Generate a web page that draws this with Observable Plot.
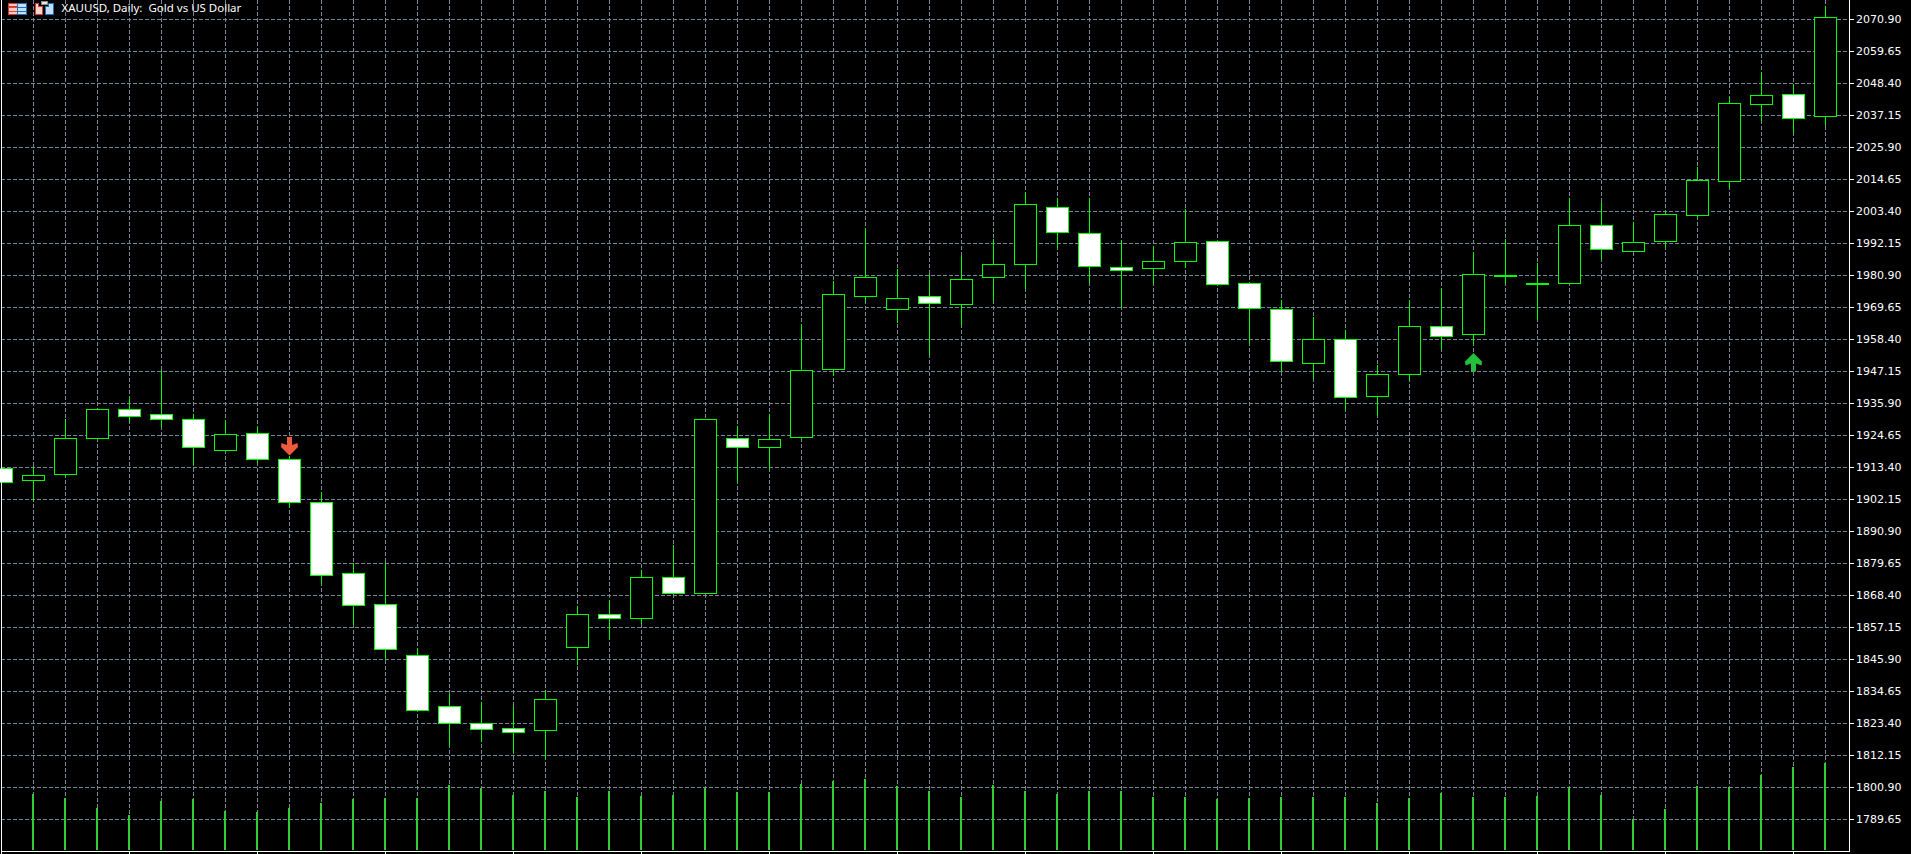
<!DOCTYPE html>
<html>
<head>
<meta charset="utf-8">
<script src="https://cdn.jsdelivr.net/npm/d3@7"></script>
<script src="https://cdn.jsdelivr.net/npm/@observablehq/plot@0.6"></script>
<style>
html,body{margin:0;padding:0;background:#000;overflow:hidden}
svg{display:block;shape-rendering:crispEdges}
</style>
</head>
<body>
<div id="chart"></div>
<script>
const title = "XAUUSD, Daily:  Gold vs US Dollar";
const priceTicks = [2070.90,2059.65,2048.40,2037.15,2025.90,2014.65,2003.40,1992.15,1980.90,1969.65,1958.40,1947.15,1935.90,1924.65,1913.40,1902.15,1890.90,1879.65,1868.40,1857.15,1845.90,1834.65,1823.40,1812.15,1800.90,1789.65];

const opens = [1913.21,1909.00,1911.10,1923.73,1933.87,1932.15,1930.43,1919.52,1925.45,1916.27,1900.96,1876.28,1865.37,1847.20,1829.21,1823.47,1821.56,1820.79,1850.26,1861.55,1860.21,1874.56,1869.20,1923.73,1920.29,1924.11,1947.84,1973.67,1969.07,1973.67,1970.80,1980.36,1984.76,2004.85,1995.67,1983.81,1983.42,1985.91,1992.99,1978.07,1969.07,1950.13,1958.55,1938.46,1946.11,1962.95,1960.27,1980.56,1977.88,1978.26,1998.54,1989.36,1992.99,2001.98,2013.85,2041.01,2044.46,2036.80];
const highs = [1913.21,1913.59,1930.43,1934.06,1938.08,1947.65,1931.96,1930.04,1927.56,1917.42,1904.60,1879.72,1880.11,1849.68,1833.61,1830.93,1829.21,1835.14,1864.42,1866.71,1877.24,1885.85,1930.43,1927.94,1932.15,1963.53,1978.64,1997.39,1983.04,1981.13,1987.44,1993.56,2010.02,2007.91,2008.11,1992.99,1991.27,2004.09,1992.99,1978.26,1971.94,1966.01,1961.61,1949.37,1972.14,1976.35,1988.97,1993.56,1985.15,2007.91,2006.58,1999.50,2003.51,2018.82,2043.50,2052.30,2048.09,2075.45];
const lows = [1908.23,1901.34,1909.95,1923.54,1929.28,1927.36,1913.97,1919.52,1914.74,1899.05,1872.45,1857.72,1845.86,1827.87,1815.25,1816.78,1812.95,1810.65,1843.94,1852.94,1858.10,1868.44,1869.01,1908.23,1912.44,1923.16,1945.35,1971.56,1964.10,1952.62,1962.95,1971.56,1975.96,1990.50,1978.07,1969.65,1977.88,1983.42,1977.68,1956.83,1947.26,1944.20,1933.30,1931.38,1943.63,1954.92,1956.64,1977.88,1965.25,1977.88,1986.68,1989.36,1990.69,2000.64,2011.55,2034.89,2030.68,2033.36];
const closes = [1908.23,1910.72,1923.73,1933.87,1931.38,1930.43,1920.29,1925.07,1916.08,1900.96,1875.32,1864.99,1849.30,1827.87,1823.28,1821.18,1820.41,1831.70,1861.55,1860.40,1874.56,1869.01,1930.43,1920.29,1923.35,1947.65,1974.24,1980.17,1972.90,1971.18,1979.60,1984.76,2005.81,1996.05,1984.19,1982.66,1985.91,1992.61,1977.88,1969.27,1950.52,1958.55,1938.08,1946.11,1962.95,1959.51,1981.32,1980.75,1978.07,1998.54,1990.12,1992.61,2002.37,2014.42,2041.40,2044.27,2036.23,2071.63];
const volumes = [0,104,97,79,66,91,95,72,71,79,88,95,97,97,120,115,102,110,99,110,100,102,115,107,107,123,128,131,118,110,98,121,110,104,110,109,99,99,94,96,99,98,98,88,97,105,98,98,101,116,102,57,76,119,116,138,153,160];

const volumeBase = 1778.58;
const volumeUnit = 0.1913;
const downSignals = [{i: 9, price: 1921.0}];
const upSignals = [{i: 46, price: 1950.3}];

const GREEN = "#00ff00", GRID = "#778899", VOL = "#32cd32";
const indices = d3.range(opens.length);
const bodyHalf = 11 / 32;

const arrow = sign => ({
  draw(ctx, size) {
    const r = Math.sqrt(size / Math.PI) / 10;
    const pts = [[-2.5,-9],[2.5,-9],[2.5,-1],[8,-3],[8.5,1],[0,9.5],[-8.5,1],[-8,-3],[-2.5,-1]];
    pts.forEach(([a, b], k) => k ? ctx.lineTo(a * r, sign * b * r) : ctx.moveTo(a * r, sign * b * r));
    ctx.closePath();
  }
});

const iconSvg = `<svg xmlns='http://www.w3.org/2000/svg' width='60' height='20' shape-rendering='crispEdges'>
<rect x='7.5' y='2.5' width='9' height='11' fill='#f6c9c4' stroke='#d8372e'/>
<rect x='16.5' y='2.5' width='9' height='11' fill='#bfe0f7' stroke='#1f6fb5'/>
<path d='M8 6.5h8M8 10.5h8' stroke='#e0453a' stroke-width='1'/>
<path d='M17 6.5h8M17 10.5h8' stroke='#1f6fb5' stroke-width='1'/>
<path d='M8 2.5h8M8 6h8' stroke='#d8372e'/>
<path d='M34.5 13.5V2.5h3v3h4v8z' fill='#fbd2cb' stroke='#d8372e'/>
<path d='M52.5 13.5V2.5h-5v3h-3v8z' fill='#bfe0f7' stroke='#1f6fb5'/>
<rect x='40.5' y='0.5' width='6' height='3.5' fill='#e8e8e8' stroke='#888'/>
</svg>`;
const iconSrc = "data:image/svg+xml;utf8," + encodeURIComponent(iconSvg);

const chart = Plot.plot({
  width: 1911,
  height: 854,
  marginLeft: 1,
  marginRight: 62,
  marginTop: 0,
  marginBottom: 3,
  style: {background: "#000", color: "#fff", fontFamily: "'DejaVu Sans', sans-serif", overflow: "hidden"},
  x: {type: "linear", domain: [0, opens.length - 1], range: [1, 1825], axis: null, label: null},
  y: {type: "linear", domain: [priceTicks[0], priceTicks[priceTicks.length - 1]], range: [19, 819], axis: null, label: null},
  marks: [
    Plot.ruleX(indices, {x: d => d, y1: volumeBase, y2: priceTicks[0] + 7, stroke: GRID, strokeDasharray: "4,2", strokeWidth: 1}),
    Plot.ruleY(priceTicks, {y: d => d, stroke: GRID, strokeDasharray: "4,2", strokeWidth: 1}),
    Plot.ruleX(indices.filter(i => volumes[i] > 0), {x: i => i, y1: volumeBase, y2: i => volumeBase + volumes[i] * volumeUnit, stroke: VOL, strokeWidth: 2, dx: -0.5}),
    Plot.ruleX(indices, {x: i => i, y1: i => lows[i], y2: i => highs[i], stroke: GREEN, strokeWidth: 1}),
    Plot.rect(indices, {
      x1: i => i - bodyHalf, x2: i => i + bodyHalf,
      y1: i => opens[i], y2: i => closes[i],
      fill: i => closes[i] >= opens[i] ? "#000" : "#fff",
      stroke: GREEN, strokeWidth: 1, dx: 0.5, dy: 0.5
    }),
    Plot.dot(downSignals, {x: "i", y: "price", r: 10, symbol: arrow(1), fill: "#f05a3c", stroke: "none", shapeRendering: "geometricPrecision"}),
    Plot.dot(upSignals, {x: "i", y: "price", r: 10, symbol: arrow(-1), fill: "#22c03c", stroke: "none", shapeRendering: "geometricPrecision"}),
    Plot.frame({anchor: "left", stroke: "#fff"}),
    Plot.frame({anchor: "right", stroke: "#fff"}),
    Plot.frame({anchor: "bottom", stroke: "#fff"}),
    Plot.axisX(d3.range(0, opens.length, 4), {anchor: "bottom", label: null, tickSize: 3, tickFormat: () => "", stroke: "#fff"}),
    Plot.axisY(priceTicks, {anchor: "right", label: null, tickSize: 4, tickPadding: 2.5, tickFormat: d3.format(".2f"), stroke: "#fff", fill: "#fff", fontSize: 11, fontFamily: "'DejaVu Sans', sans-serif", textStroke: "none"}),
    Plot.text([title], {frameAnchor: "top-left", text: d => d, dx: 60, dy: 3, lineAnchor: "top", textAnchor: "start", fill: "#fff", fontSize: 11.5, fontFamily: "'Noto Sans', sans-serif"}),
    Plot.image([0], {frameAnchor: "top-left", src: () => iconSrc, width: 60, height: 20, dx: 29, dy: 10})
  ]
});
document.getElementById("chart").appendChild(chart);
</script>
</body>
</html>
